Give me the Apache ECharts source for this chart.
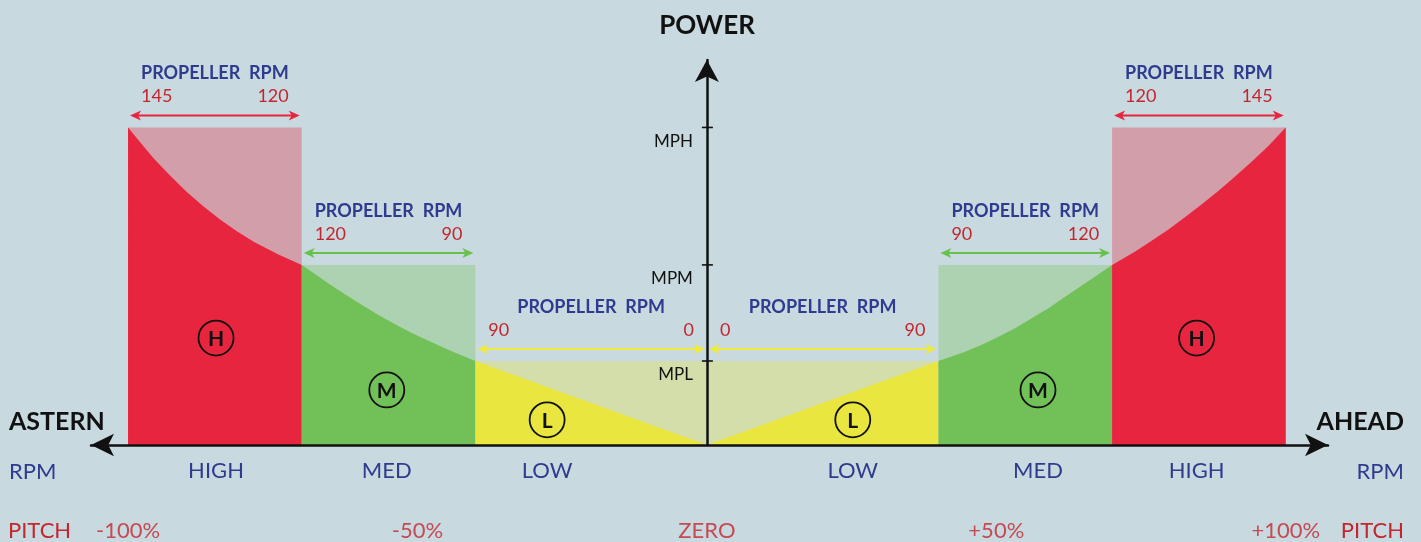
<!DOCTYPE html>
<html lang="en">
<head>
<meta charset="UTF-8">
<title>Propeller power</title>
<script src="https://cdn.jsdelivr.net/npm/echarts@6/dist/echarts.min.js"></script>
<style>
html, body { margin: 0; padding: 0; background: #c8dadf; }
#main { width: 1421px; height: 542px; }
</style>
</head>
<body>
<div id="main"></div>
<script>
// x = pitch (%), astern negative / ahead positive; y = power (% of MPH-ish)
var zoneNames   = ['HIGH', 'MED', 'LOW', 'LOW', 'MED', 'HIGH'];
var zoneLetters = ['H', 'M', 'L', 'L', 'M', 'H'];
var zoneStart   = [-100, -70, -40, 0, 40, 70];
var zoneEnd     = [-70, -40, 0, 40, 70, 100];
var zoneTop     = [99.8, 56.6, 26.4, 26.4, 56.6, 99.8];
var rpmStart    = [145, 120, 90, 0, 90, 120];
var rpmEnd      = [120, 90, 0, 90, 120, 145];
var markerX     = [-84.8, -55.3, -27.6, 25.2, 57.2, 84.6];
var markerY     = [33.6, 17.3, 7.9, 7.9, 17.3, 33.6];

// power curve
var curveHighAstern = [[-100, 99.8], [-97.8, 94.9], [-95.6, 90.1], [-92.7, 84.6], [-89.8, 79.4], [-87.0, 75.0], [-84.1, 70.9], [-81.2, 67.2], [-78.3, 63.9], [-74.2, 60.0], [-70, 56.6]];
var curveMedAstern  = [[-70, 56.6], [-67.6, 53.6], [-65.3, 50.7], [-62.4, 47.2], [-59.5, 43.9], [-56.6, 40.7], [-53.7, 37.8], [-50.9, 35.1], [-48.0, 32.7], [-44.0, 29.4], [-40, 26.4]];
var curveLowAstern  = [[-40, 26.4], [0, 0]];
var curveLowAhead   = [[0, 0], [40, 26.4]];
var curveMedAhead   = [[40, 26.4], [44.6, 29.3], [47.5, 31.5], [50.4, 34.0], [53.3, 36.8], [56.1, 39.8], [59.0, 43.0], [61.9, 46.6], [66.0, 51.6], [70, 56.6]];
var curveHighAhead  = [[70, 56.6], [74.0, 60.8], [76.9, 64.3], [79.8, 67.8], [82.7, 71.7], [85.5, 75.7], [88.4, 79.9], [91.2, 84.3], [94.1, 89.0], [97.0, 94.0], [100, 99.8]];

var powerLevels = [26.4, 56.6, 99.8];
var powerLabels = ['MPL', 'MPM', 'MPH'];
var pitchTicks  = [-100, -50, 0, 50, 100];
var pitchLabels = ['-100%', '-50%', 'ZERO', '+50%', '+100%'];

// styles
var RED = '#e8253f', GREEN = '#72c158', YELLOW = '#eae640';
var zoneColors  = [RED, GREEN, YELLOW, YELLOW, GREEN, RED];
var fadeColors  = ['rgba(232,37,63,0.33)', 'rgba(114,193,88,0.33)', 'rgba(234,230,64,0.33)',
                   'rgba(234,230,64,0.33)', 'rgba(114,193,88,0.33)', 'rgba(232,37,63,0.33)'];
var arrowColors = [RED, '#68c14c', '#f0ea3c', '#f0ea3c', '#68c14c', RED];
var BLUE = '#2e3b8f', TXTRED = '#c4262f', INK = '#111';
var FONT = 'Lato, "Noto Sans", sans-serif';

var myChart = echarts.init(document.getElementById('main'));

function zoneRect(params, api) {
    var i = params.dataIndex;
    var p0 = api.coord([zoneStart[i], zoneTop[i]]);
    var p1 = api.coord([zoneEnd[i], 0]);
    return {
        type: 'rect',
        shape: { x: p0[0], y: p0[1], width: p1[0] - p0[0], height: p1[1] - p0[1] },
        style: { fill: fadeColors[i] }
    };
}

function arrowHead(x, y, dir, c) {
    return {
        type: 'polygon',
        shape: { points: [[x, y], [x + dir * 11, y - 5], [x + dir * 8, y], [x + dir * 11, y + 5]] },
        style: { fill: c }
    };
}

function rangeNote(params, api) {
    var i = params.dataIndex;
    var a = api.coord([zoneStart[i], zoneTop[i]]);
    var b = api.coord([zoneEnd[i], zoneTop[i]]);
    var y = a[1] - 12;
    var x0 = a[0] + 2, x1 = b[0] - 2;
    var c = arrowColors[i];
    return {
        type: 'group',
        children: [
            { type: 'line', shape: { x1: x0 + 6, y1: y, x2: x1 - 6, y2: y }, style: { stroke: c, lineWidth: 2 } },
            arrowHead(x0, y, 1, c),
            arrowHead(x1, y, -1, c),
            { type: 'text', x: (a[0] + b[0]) / 2, y: a[1] - 54,
              style: { text: 'PROPELLER  RPM', font: 'bold 18px ' + FONT, fill: BLUE, textAlign: 'center', textVerticalAlign: 'middle' } },
            { type: 'text', x: a[0] + 13, y: a[1] - 31,
              style: { text: String(rpmStart[i]), font: '18px ' + FONT, fill: TXTRED, textAlign: 'left', textVerticalAlign: 'middle' } },
            { type: 'text', x: b[0] - 13, y: a[1] - 31,
              style: { text: String(rpmEnd[i]), font: '18px ' + FONT, fill: TXTRED, textAlign: 'right', textVerticalAlign: 'middle' } }
        ]
    };
}

function powerTick(params, api) {
    var i = params.dataIndex;
    var p = api.coord([0, api.value(0)]);
    return {
        type: 'group',
        children: [
            { type: 'line', shape: { x1: p[0] - 5, y1: p[1], x2: p[0] + 6, y2: p[1] }, style: { stroke: INK, lineWidth: 1.6 } },
            { type: 'text', x: p[0] - 14, y: p[1] + 14,
              style: { text: powerLabels[i], font: '17px ' + FONT, fill: INK, textAlign: 'right', textVerticalAlign: 'middle' } }
        ]
    };
}

function zoneMarker(params, api) {
    var i = params.dataIndex;
    var p = api.coord([markerX[i], markerY[i]]);
    return {
        type: 'group',
        children: [
            { type: 'circle', shape: { cx: p[0], cy: p[1], r: 17.5 }, style: { fill: 'none', stroke: INK, lineWidth: 1.8 } },
            { type: 'text', x: p[0], y: p[1] + 1,
              style: { text: zoneLetters[i], font: 'bold 21px ' + FONT, fill: INK, textAlign: 'center', textVerticalAlign: 'middle' } }
        ]
    };
}

var curves = [curveHighAstern, curveMedAstern, curveLowAstern, curveLowAhead, curveMedAhead, curveHighAhead];
var curveSeries = curves.map(function (d, i) {
    return {
        type: 'line',
        data: d,
        smooth: false,
        showSymbol: false,
        symbol: 'none',
        lineStyle: { width: 0 },
        itemStyle: { color: zoneColors[i] },
        areaStyle: { color: zoneColors[i], opacity: 1 },
        z: 3,
        silent: true
    };
});

function txt(text, x, y, font, color, align) {
    return { type: 'text', x: x, y: y, silent: true,
             style: { text: text, font: font, fill: color, textAlign: align, textVerticalAlign: 'middle' } };
}

myChart.setOption({
    backgroundColor: '#c8dadf',
    animation: false,
    textStyle: { fontFamily: FONT },
    grid: { left: 91, right: 93, top: 60, bottom: 97, containLabel: false },
    xAxis: {
        type: 'value', min: -106.4, max: 107.3, z: 10,
        splitLine: { show: false },
        axisTick: { show: false },
        axisLine: { lineStyle: { color: INK, width: 2.5 }, symbol: ['arrow', 'arrow'], symbolSize: [17, 23] },
        axisLabel: {
            customValues: markerX,
            formatter: function (v) { return zoneNames[markerX.indexOf(v)]; },
            color: BLUE, fontSize: 22, margin: 15, fontFamily: FONT
        }
    },
    yAxis: {
        type: 'value', min: 0, max: 121, z: 10,
        splitLine: { show: false },
        axisTick: { show: false },
        axisLabel: { show: false },
        axisLine: { onZero: true, lineStyle: { color: INK, width: 2.5 }, symbol: ['none', 'arrow'], symbolSize: [18, 22] }
    },
    graphic: [
        txt('POWER', 707, 26, 'bold 26px ' + FONT, INK, 'center'),
        txt('ASTERN', 9, 422, 'bold 25px ' + FONT, INK, 'left'),
        txt('AHEAD', 1404, 422, 'bold 25px ' + FONT, INK, 'right'),
        txt('RPM', 9, 472, '22px ' + FONT, BLUE, 'left'),
        txt('RPM', 1404, 472, '22px ' + FONT, BLUE, 'right'),
        txt('PITCH', 8, 531, '22px ' + FONT, TXTRED, 'left'),
        txt('PITCH', 1404, 531, '22px ' + FONT, TXTRED, 'right')
    ],
    series: [
        {
            type: 'custom', name: 'zones', renderItem: zoneRect, z: 1, silent: true,
            data: zoneStart.map(function (s, i) { return [s, zoneEnd[i], zoneTop[i]]; }),
            encode: { x: [0, 1], y: 2 }
        }
    ].concat(curveSeries).concat([
        {
            type: 'custom', name: 'ranges', renderItem: rangeNote, z: 4, silent: true,
            data: zoneStart.map(function (s, i) { return [s, zoneEnd[i], zoneTop[i]]; }),
            encode: { x: [0, 1], y: 2 }
        },
        {
            type: 'custom', name: 'powerTicks', renderItem: powerTick, z: 12, silent: true,
            data: powerLevels.map(function (v) { return [v]; }),
            encode: { y: 0 }
        },
        {
            type: 'custom', name: 'markers', renderItem: zoneMarker, z: 5, silent: true,
            data: markerX.map(function (x, i) { return [x, markerY[i]]; }),
            encode: { x: 0, y: 1 }
        },
        {
            type: 'scatter', name: 'pitch', z: 5, silent: true,
            data: pitchTicks.map(function (v) { return [v, 0]; }),
            symbolSize: 1,
            itemStyle: { color: 'rgba(0,0,0,0)' },
            label: {
                show: true, position: 'inside', offset: [0, 86],
                formatter: function (p) { return pitchLabels[p.dataIndex]; },
                color: TXTRED, fontSize: 22, fontFamily: FONT
            }
        }
    ])
});
</script>
</body>
</html>
